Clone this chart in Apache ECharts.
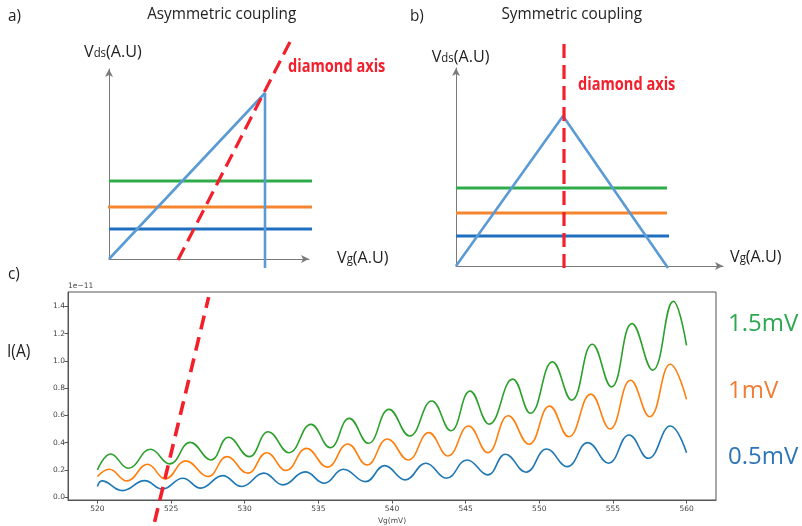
<!DOCTYPE html>
<html><head><meta charset="utf-8">
<script src="https://cdn.jsdelivr.net/npm/echarts@6/dist/echarts.min.js"></script>
<style>html,body{margin:0;padding:0;background:#fff}#c{width:802px;height:526px}</style>
</head><body><div id="c"></div>
<script>
// ---------- DATA ----------
// Panel c: current I (units of 1e-11 A) vs Vg (mV), [Vg, I]
const curve1p5mV = [[520.0,0.200],[520.9,0.317],[522.1,0.212],[523.6,0.351],[524.9,0.244],[526.3,0.402],[527.7,0.273],[528.9,0.439],[530.3,0.297],[531.6,0.480],[533.0,0.326],[534.5,0.534],[535.8,0.363],[537.1,0.578],[538.4,0.395],[539.8,0.644],[541.2,0.449],[542.7,0.705],[544.0,0.487],[545.3,0.778],[546.6,0.536],[548.2,0.866],[549.4,0.615],[550.9,0.992],[552.2,0.712],[553.6,1.122],[554.9,0.809],[556.3,1.273],[557.7,0.932],[559.1,1.436],[560.0,1.114]];
const curve1mV = [[520.0,0.151],[520.8,0.205],[522.0,0.119],[523.4,0.241],[524.6,0.134],[526.0,0.266],[527.5,0.151],[528.8,0.297],[530.2,0.176],[531.5,0.326],[532.8,0.195],[534.2,0.358],[535.6,0.220],[537.0,0.390],[538.3,0.236],[539.7,0.427],[541.1,0.273],[542.5,0.473],[543.8,0.302],[545.2,0.522],[546.5,0.326],[547.9,0.597],[549.3,0.388],[550.7,0.668],[552.0,0.443],[553.5,0.756],[554.8,0.500],[556.2,0.858],[557.5,0.590],[558.9,0.975],[560.0,0.717]];
const curve0p5mV = [[520.0,0.078],[520.3,0.119],[521.7,0.048],[523.2,0.121],[524.4,0.059],[525.8,0.139],[527.0,0.066],[528.5,0.158],[529.8,0.078],[531.3,0.176],[532.6,0.090],[534.1,0.185],[535.4,0.102],[536.7,0.205],[538.2,0.114],[539.5,0.231],[540.9,0.127],[542.3,0.249],[543.7,0.139],[545.1,0.273],[546.5,0.163],[547.7,0.315],[549.1,0.183],[550.5,0.353],[551.9,0.224],[553.3,0.400],[554.7,0.249],[556.1,0.456],[557.4,0.285],[558.9,0.522],[560.0,0.326]];
const diamondAxisC = [[523.88,-0.181],[527.55,1.467]];
const xTicksC = [520,525,530,535,540,545,550,555,560];
const yTicksC = [0,0.2,0.4,0.6,0.8,1.0,1.2,1.4];
const seriesNamesC = ['1.5mV','1mV','0.5mV'];

// Panel a: asymmetric coupling (arbitrary units)
const asymDiamond = [[0,0],[15.6,16.6],[15.6,-0.9]];
const asymDiamondAxis = [[6.9,-0.1],[18.2,21.9]];
const asymLevelY = [7.8, 5.2, 3.0];          // 1.5mV, 1mV, 0.5mV
const asymLevelXStart = [0, -0.1, 0];
const asymLevelXEnd = [21.1, 21.1, 20.5];

// Panel b: symmetric coupling (arbitrary units)
const symDiamond = [[0,0],[10.7,15.0],[21.2,-0.2]];
const symDiamondAxis = [[10.8,-0.2],[10.8,22.3]];
const symLevelY = [7.8, 5.3, 3.0];
const symLevelXStart = [0, 0, 0];
const symLevelXEnd = [21.1, 21.1, 21.3];

// ---------- STYLE ----------
const F = 'Open Sans';
const diagLevelColors = ['#2fab4b', '#f5852f', '#1f6fc0'];
const curveColors = ['#2ca02c', '#ff7f0e', '#1f77b4'];
const labelColors = ['#2ea84f', '#ef7d32', '#2e75b6'];
const RED = '#f3202c';

function levelData(y, x0, x1){ return [[x0,y],[x1,y]]; }

const series = [];
[[0, asymLevelY, asymLevelXStart, asymLevelXEnd, asymDiamond, asymDiamondAxis],
 [1, symLevelY, symLevelXStart, symLevelXEnd, symDiamond, symDiamondAxis]].forEach(([g, ly, lx0, lx1, dia, ax]) => {
  ly.forEach((y, i) => series.push({type:'line', xAxisIndex:g, yAxisIndex:g, data: levelData(y, lx0[i], lx1[i]),
    symbol:'none', clip:false, silent:true, lineStyle:{color:diagLevelColors[i], width:3.2, cap:'butt'}, z:2}));
  series.push({type:'line', xAxisIndex:g, yAxisIndex:g, data: dia, symbol:'none', clip:false, silent:true,
    lineStyle:{color:'#5b9bd5', width:2.6}, z:3});
  series.push({type:'line', xAxisIndex:g, yAxisIndex:g, data: ax, symbol:'none', clip:false, silent:true,
    lineStyle:{color:RED, width:3.2, type:[14,7], cap:'butt'}, z:4});
});
[curve1p5mV, curve1mV, curve0p5mV].forEach((d, i) => series.push({type:'line', name:seriesNamesC[i], xAxisIndex:2, yAxisIndex:2,
  data:d, symbol:'none', smooth:0.45, silent:true, lineStyle:{color:curveColors[i], width:1.6}, z:3}));
series.push({type:'line', xAxisIndex:2, yAxisIndex:2, data: diamondAxisC, symbol:'none', clip:false, silent:true,
  lineStyle:{color:RED, width:3.6, type:[14,8], cap:'butt'}, z:5});

function diagAxis(g, max){
  return {type:'value', gridIndex:g, min:0, max:max,
    axisLine:{show:true, onZero:false, symbol:['none','arrow'], symbolSize:[6,8], lineStyle:{color:'#7a7a7a', width:1}},
    axisTick:{show:false}, axisLabel:{show:false}, splitLine:{show:false}};
}

function txt(x, y, text, o){
  o = o || {};
  const st = {text:text, fontFamily:o.family||F, fontSize:o.size||16, fontWeight:o.weight||'normal', fill:o.color||'#222',
    align:o.align||'left', textAlign:o.align||'left', verticalAlign:'middle', textVerticalAlign:'middle'};
  if (o.rich) st.rich = o.rich;
  return {type:'text', x:x, y:y, scaleX:o.sx||1, silent:true, z:10, style:st};
}
const vRich = {
  v:{fontFamily:F, fontSize:17, fill:'#222', verticalAlign:'bottom'},
  s:{fontFamily:F, fontSize:12, fill:'#222', verticalAlign:'bottom', padding:[0,0,1,0]}
};

const graphics = [
  txt(8, 16, 'a)', {size:17, sx:0.9}),
  txt(221.7, 14.5, 'Asymmetric coupling', {size:17, sx:0.9, align:'center'}),
  txt(84, 52, '{v|V}{s|ds}{v|(A.U)}', {rich:vRich, sx:0.95}),
  txt(288, 67, 'diamond axis', {size:18, weight:'bold', color:RED, sx:0.81}),
  txt(337, 258, '{v|V}{s|g}{v|(A.U)}', {rich:vRich, sx:0.95}),
  txt(410, 16, 'b)', {size:17, sx:0.9}),
  txt(571.7, 14.5, 'Symmetric coupling', {size:17, sx:0.9, align:'center'}),
  txt(431.7, 57, '{v|V}{s|ds}{v|(A.U)}', {rich:vRich, sx:0.95}),
  txt(578, 85, 'diamond axis', {size:18, weight:'bold', color:RED, sx:0.81}),
  txt(730, 257, '{v|V}{s|g}{v|(A.U)}', {rich:vRich, sx:0.95}),
  txt(8, 274, 'c)', {size:17, sx:0.9}),
  txt(7, 352, 'I(A)', {size:19, sx:0.82}),
  txt(68, 286.5, '1e\u221211', {size:7.5, color:'#444', family:'DejaVu Sans'}),
  txt(728, 324, seriesNamesC[0], {size:24, color:labelColors[0]}),
  txt(728, 391, seriesNamesC[1], {size:24, color:labelColors[1]}),
  txt(728, 457, seriesNamesC[2], {size:24, color:labelColors[2]})
];

const tickLabel = {fontSize:7.5, color:'#444', fontFamily:'DejaVu Sans'};
const option = {
  animation:false,
  backgroundColor:'#fff',
  grid:[
    {left:109, top:69, width:200, height:190},
    {left:456, top:68, width:267, height:198},
    {left:68, top:292, width:648, height:208, show:true, borderColor:'#555', borderWidth:1, backgroundColor:'transparent'}
  ],
  xAxis:[
    diagAxis(0, 20), diagAxis(1, 26.7),
    {type:'value', gridIndex:2, min:518, max:562,
      axisLine:{show:true, onZero:false, lineStyle:{color:'#555', width:1}},
      axisTick:{show:true, length:3.5, customValues:xTicksC, lineStyle:{color:'#555'}},
      axisLabel:Object.assign({customValues:xTicksC, margin:5}, tickLabel),
      splitLine:{show:false},
      name:'Vg(mV)', nameLocation:'middle', nameGap:17, nameTextStyle:tickLabel}
  ],
  yAxis:[
    diagAxis(0, 19), diagAxis(1, 19.8),
    {type:'value', gridIndex:2, min:-0.021, max:1.505,
      axisLine:{show:true, onZero:false, lineStyle:{color:'#555', width:1}},
      axisTick:{show:true, length:3.5, customValues:yTicksC, lineStyle:{color:'#555'}},
      axisLabel:Object.assign({customValues:yTicksC, margin:3, formatter:v => Number(v).toFixed(1)}, tickLabel),
      splitLine:{show:false}}
  ],
  series:series,
  graphic:graphics
};
const chart = echarts.init(document.getElementById('c'), null, {renderer:'canvas'});
chart.setOption(option);
</script></body></html>
